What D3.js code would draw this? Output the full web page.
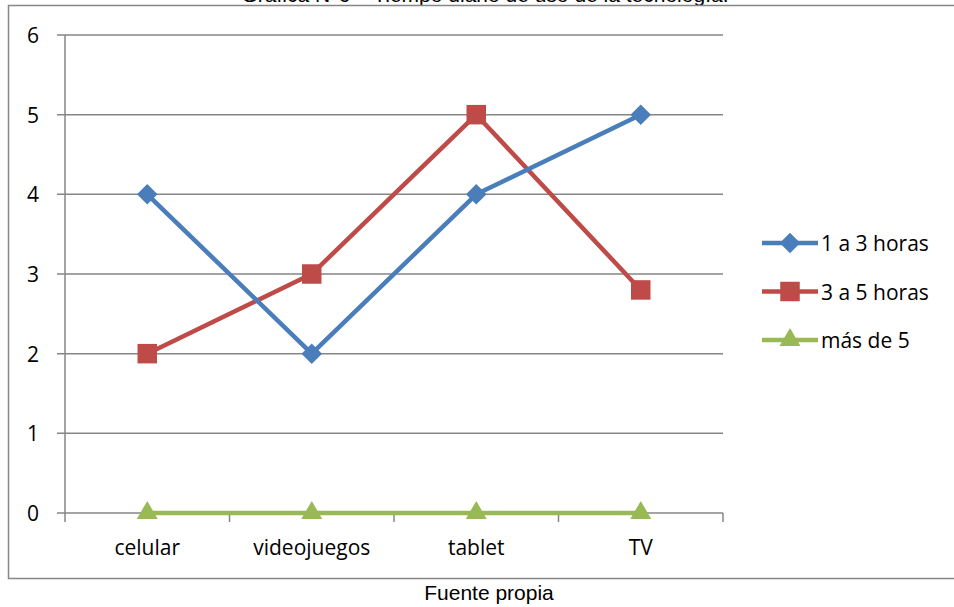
<!DOCTYPE html>
<html>
<head>
<meta charset="utf-8">
<script src="https://cdn.jsdelivr.net/npm/d3@7"></script>
<style>
  body { margin: 0; background: #fff; }
  svg { display: block; }
</style>
</head>
<body>
<svg id="chart" width="954" height="607"></svg>
<script>
const categories = ["celular", "videojuegos", "tablet", "TV"];
const seriesNames = ["1 a 3 horas", "3 a 5 horas", "más de 5"];
const values1a3 = [4, 2, 4, 5];
const values3a5 = [2, 3, 5, 2.8];
const valuesMas5 = [0, 0, 0, 0];
const yTicks = [0, 1, 2, 3, 4, 5, 6];
const colors = ["#4a7ebb", "#be4b48", "#98b954"];

// diamond = square turned 45 degrees, the way the spreadsheet draws it
const wideDiamond = {
  draw(ctx, size) {
    const r = Math.sqrt(size) / 2;
    ctx.moveTo(0, -r); ctx.lineTo(r, 0); ctx.lineTo(0, r); ctx.lineTo(-r, 0); ctx.closePath();
  }
};
const symbols = [wideDiamond, d3.symbolSquare, d3.symbolTriangle];
const sizes = [420, 380, 190];

const series = [values1a3, values3a5, valuesMas5].map((vals, i) => ({
  name: seriesNames[i],
  color: colors[i],
  symbol: symbols[i],
  size: sizes[i],
  values: vals
}));

const svg = d3.select("#chart");
const font = "'Open Sans', 'Noto Sans', sans-serif";
const noteFont = "'Liberation Sans', Arial, sans-serif";

const margin = { left: 65, right: 723, top: 35, bottom: 513 };

const x = d3.scaleBand().domain(categories).range([margin.left, margin.right]);
const y = d3.scaleLinear().domain([0, 6]).range([margin.bottom, margin.top]);

// title, cut by the top edge as in the source
svg.append("text")
  .attr("x", 485).attr("y", 2)
  .attr("text-anchor", "middle")
  .style("font-family", noteFont)
  .style("font-size", "21px")
  .text("Gráfica N°6 – Tiempo diario de uso de la tecnología.");

// outer chart frame
svg.append("rect")
  .attr("x", 8.5).attr("y", 5.5)
  .attr("width", 960).attr("height", 573)
  .attr("fill", "#fff")
  .attr("stroke", "#868686")
  .attr("stroke-width", 1.5);

// grid lines
svg.append("g")
  .selectAll("line")
  .data(yTicks)
  .join("line")
  .attr("x1", margin.left - 8).attr("x2", margin.right)
  .attr("y1", d => y(d)).attr("y2", d => y(d))
  .attr("stroke", "#868686")
  .attr("stroke-width", 1.5);

// y axis line
svg.append("line")
  .attr("x1", margin.left).attr("x2", margin.left)
  .attr("y1", margin.top).attr("y2", margin.bottom)
  .attr("stroke", "#868686")
  .attr("stroke-width", 1.5);

svg.append("g")
  .selectAll("text")
  .data(yTicks)
  .join("text")
  .attr("x", 33).attr("y", d => y(d) + 8)
  .attr("text-anchor", "middle")
  .style("font-family", font)
  .style("font-size", "21px")
  .text(d => d);

// x axis ticks
const xTickPos = categories.map(c => x(c)).concat([x.range()[1]]);
svg.append("g")
  .selectAll("line")
  .data(xTickPos)
  .join("line")
  .attr("x1", d => d).attr("x2", d => d)
  .attr("y1", margin.bottom).attr("y2", margin.bottom + 9)
  .attr("stroke", "#868686")
  .attr("stroke-width", 1.5);

svg.append("g")
  .selectAll("text")
  .data(categories)
  .join("text")
  .attr("x", d => x(d) + x.bandwidth() / 2)
  .attr("y", 555)
  .attr("text-anchor", "middle")
  .style("font-family", font)
  .style("font-size", "21px")
  .text(d => d);

// lines
const line = d3.line()
  .x((d, i) => x(categories[i]) + x.bandwidth() / 2)
  .y(d => y(d));

series.slice().reverse().forEach(s => {
  const g = svg.append("g");
  g.append("path")
    .attr("d", line(s.values))
    .attr("fill", "none")
    .attr("stroke", s.color)
    .attr("stroke-width", 4.5)
    .attr("stroke-linejoin", "round");
  g.selectAll("path.marker")
    .data(s.values)
    .join("path")
    .attr("class", "marker")
    .attr("d", d3.symbol().type(s.symbol).size(s.size))
    .attr("transform", (d, i) => `translate(${x(categories[i]) + x.bandwidth() / 2},${y(d)})`)
    .attr("fill", s.color);
});

// legend
const legend = svg.append("g")
  .selectAll("g")
  .data(series)
  .join("g")
  .attr("transform", (d, i) => `translate(762,${243 + i * 48.5})`);

legend.append("line")
  .attr("x1", 0).attr("x2", 56)
  .attr("stroke", d => d.color)
  .attr("stroke-width", 4.5);

legend.append("path")
  .attr("d", d => d3.symbol().type(d.symbol).size(d.size)())
  .attr("transform", "translate(28,0)")
  .attr("fill", d => d.color);

legend.append("text")
  .attr("x", 59).attr("y", 8)
  .style("font-family", font)
  .style("font-size", "21px")
  .text(d => d.name);

// source note
svg.append("text")
  .attr("x", 489).attr("y", 600)
  .attr("text-anchor", "middle")
  .style("font-family", noteFont)
  .style("font-size", "21px")
  .text("Fuente propia");
</script>
</body>
</html>
